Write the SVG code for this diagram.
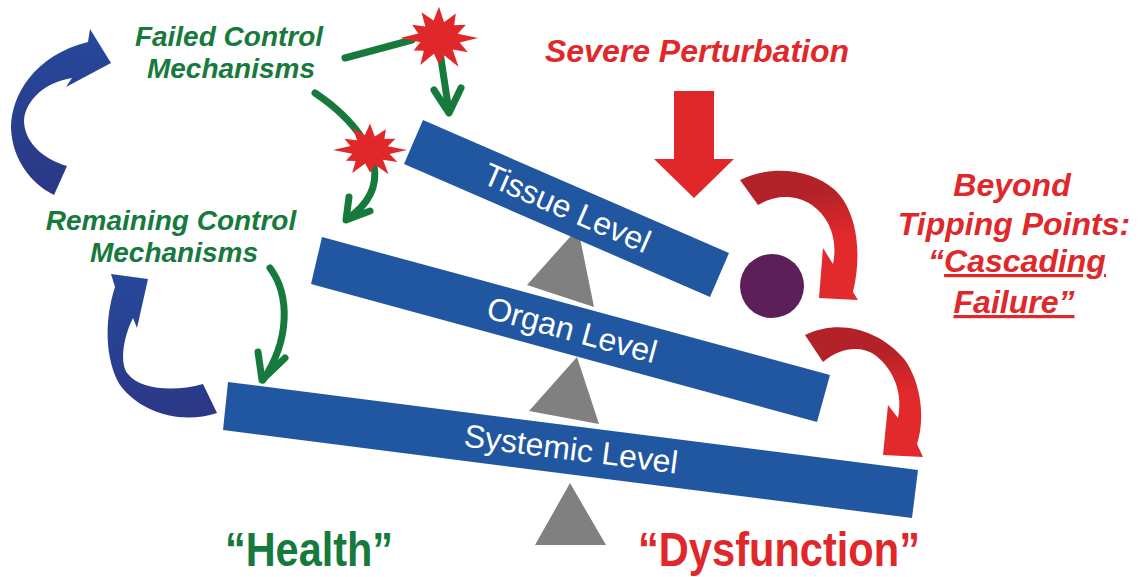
<svg xmlns="http://www.w3.org/2000/svg" width="1139" height="577" viewBox="0 0 1139 577">
<defs>
<style>
.bar{fill:#2157a0}
.tri{fill:#808080}
.bartxt{font-family:"Liberation Sans",Arial,sans-serif;font-size:32px;fill:#ffffff;text-anchor:middle}
.gtxt{font-family:"Liberation Sans",Arial,sans-serif;font-size:28px;font-weight:bold;font-style:italic;fill:#177a3d;text-anchor:middle}
.rtxt{font-family:"Liberation Sans",Arial,sans-serif;font-size:32px;font-weight:bold;font-style:italic;fill:#e0282a;text-anchor:middle}
.big{font-family:"Liberation Sans",Arial,sans-serif;font-size:49px;font-weight:bold;text-anchor:middle}
.gline{fill:none;stroke:#177a3d;stroke-width:7;stroke-linecap:round;stroke-linejoin:round}
.star{fill:#e0282a}
</style>
<linearGradient id="redg" x1="0" y1="0" x2="0.2" y2="1">
<stop offset="0.3" stop-color="#b42229"/>
<stop offset="0.65" stop-color="#e2292b"/>
</linearGradient>
<linearGradient id="blueg" x1="0" y1="0" x2="0" y2="1">
<stop offset="0" stop-color="#26489b"/>
<stop offset="1" stop-color="#2b3886"/>
</linearGradient>
<polygon id="starshape" points="100,0 53,14 74,43 35,35 50,87 14,53 0,80 -13,48 -48,82 -39,39 -65,38 -48,13 -100,0 -53,-14 -69,-40 -35,-35 -45,-78 -14,-53 0,-95 13,-48 43,-74 39,-39 69,-40 48,-13"/>
</defs>
<rect width="1139" height="577" fill="#ffffff"/>

<g id="connectors">
<path class="gline" d="M 345,58 L 412,40"/>
<path class="gline" d="M 440,52 L 449,112"/>
<path class="gline" d="M 434,90 L 449,113 L 461,88"/>
<path class="gline" d="M 315,93 C 333,105 350,120 362,138"/>
<path class="gline" d="M 374,165 C 378,188 368,205 347,219"/>
<path class="gline" d="M 349,197 L 346,220 L 370,211"/>
<path class="gline" d="M 270,268 C 290,295 290,340 263,380"/>
<path class="gline" d="M 258,352 L 262,380 L 285,358"/>
</g>

<g id="fulcrums">
<polygon class="tri" points="578,228 527,285 594,307"/>
<polygon class="tri" points="577,357 529,411 599,424"/>
<polygon class="tri" points="570,483 535,545 606,545"/>
</g>

<g id="systemic-level">
<polygon class="bar" points="228,382 918,470 912,518 223,430"/>
<text class="bartxt" transform="translate(571,449) rotate(7.3)" x="0" y="11">Systemic Level</text>
</g>
<g id="organ-level">
<polygon class="bar" points="322,237 830,375 817,422 311,284"/>
<text class="bartxt" transform="translate(572,330) rotate(15.2)" x="0" y="11">Organ Level</text>
</g>
<g id="tissue-level">
<polygon class="bar" points="423,120 729,253 710,297 404,164"/>
<text class="bartxt" transform="translate(567,208) rotate(23.5)" x="0" y="11">Tissue Level</text>
</g>

<g id="ball">
<circle cx="772" cy="286" r="32" fill="#5c1f5a"/>
</g>

<g id="star-top">
<use href="#starshape" class="star" transform="translate(439,38) scale(0.39,0.33)"/>
</g>
<g id="star-bottom">
<use href="#starshape" class="star" transform="translate(370,150) scale(0.37,0.28)"/>
</g>

<g id="perturbation-arrow">
<polygon fill="#e0282a" points="674,91 714,91 714,159 734,159 694,198 654,159 674,159"/>
</g>

<g id="cascade-arrow-1">
<path fill="url(#redg)" d="M 740,180 C 770,165 810,168 835,190 C 858,212 862,255 853,292 L 858,300 L 819,298 L 823,248 L 833,264 C 838,240 830,218 812,205 C 795,194 775,195 758,205 Z"/>
</g>
<g id="cascade-arrow-2">
<path fill="url(#redg)" d="M 805,335 C 840,318 880,330 905,360 C 922,385 925,420 917,444 L 923,457 L 883,455 L 888,405 L 898,418 C 903,395 895,370 875,355 C 860,345 840,348 823,362 Z"/>
</g>

<g id="feedback-arrow-top">
<path fill="url(#blueg)" d="M 54,195 C 30,183 12,158 11,128 C 11,95 35,55 88,42 L 90,29 L 111,63 L 66,87 L 72,78 C 45,82 26,100 24,120 C 24,140 40,158 67,166 Z"/>
</g>
<g id="feedback-arrow-bottom">
<path fill="url(#blueg)" d="M 217,413 C 180,425 140,412 120,385 C 105,360 104,320 115,287 L 111,274 L 148,279 L 137,328 L 133,318 C 122,340 120,365 128,374 C 140,390 175,392 203,384 Z"/>
</g>

<g id="failed-control">
<text class="gtxt" x="229" y="46">Failed Control</text>
<text class="gtxt" x="231" y="78">Mechanisms</text>
</g>
<g id="remaining-control">
<text class="gtxt" x="171" y="230">Remaining Control</text>
<text class="gtxt" x="174" y="262">Mechanisms</text>
</g>
<g id="severe-perturbation">
<text class="rtxt" x="697" y="62">Severe Perturbation</text>
</g>
<g id="tipping-points">
<text class="rtxt" x="1012" y="196">Beyond</text>
<text class="rtxt" x="1014" y="235">Tipping Points:</text>
<text class="rtxt" x="1017" y="272">“<tspan text-decoration="underline">Cascading</tspan></text>
<text class="rtxt" x="1014" y="313" text-decoration="underline">Failure”</text>
</g>
<g id="health">
<text class="big" x="309" y="566" fill="#177a3d" textLength="168" lengthAdjust="spacingAndGlyphs">“Health”</text>
</g>
<g id="dysfunction">
<text class="big" x="779" y="566" fill="#e0282a" textLength="282" lengthAdjust="spacingAndGlyphs">“Dysfunction”</text>
</g>
</svg>
